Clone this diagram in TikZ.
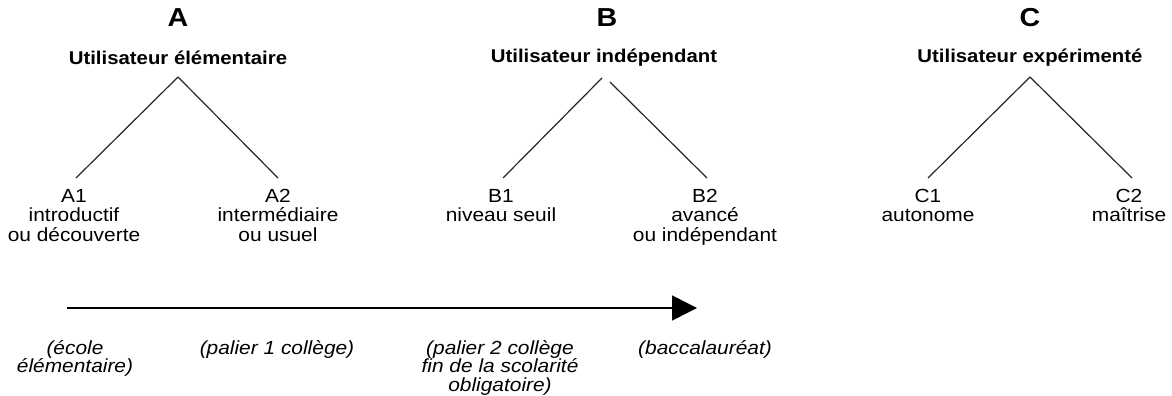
\documentclass[tikz,border=0pt]{standalone}
\usepackage{fontspec}
\setmainfont{Liberation Sans}[FakeStretch=1.1]
\usetikzlibrary{arrows.meta}
\begin{document}
\begin{tikzpicture}[x=1pt,y=-1pt,
  head/.style={font=\fontsize{26}{28}\selectfont\bfseries, inner sep=0pt},
  sub/.style={font=\fontsize{18.5}{19.5}\selectfont\bfseries, inner sep=0pt},
  lvl/.style={font=\fontsize{19}{19.5}\selectfont, align=center, anchor=north, inner sep=0pt},
  stage/.style={font=\fontsize{19}{18.5}\selectfont\itshape, align=center, anchor=north, inner sep=0pt},
  branch/.style={line width=1.2pt, black!85},
]
\useasboundingbox (0,0) rectangle (1172,396);
% headings
\node[head] (A) at (178,18) {A};
\node[sub] (As) at (178,58) {Utilisateur élémentaire};
\node[head] (B) at (607,18) {B};
\node[sub] (Bs) at (604,58) {Utilisateur indépendant};
\node[head] (C) at (1030,18) {C};
\node[sub] (Cs) at (1030,58) {Utilisateur expérimenté};
% apexes
\coordinate (Aap) at (178,77);
\coordinate (BapL) at (602,78);
\coordinate (BapR) at (610,82);
\coordinate (Cap) at (1030,77);
% levels
\node[lvl] (A1) at (74,189) {A1\\introductif\\ou découverte};
\node[lvl] (A2) at (278,189) {A2\\intermédiaire\\ou usuel};
\node[lvl] (B1) at (501,189) {B1\\niveau seuil};
\node[lvl] (B2) at (705,189) {B2\\avancé\\ou indépendant};
\node[lvl] (C1) at (928,189) {C1\\autonome};
\node[lvl] (C2) at (1129,189) {C2\\maîtrise};
% branches
\draw[branch] (Aap) -- ([yshift=11pt,xshift=2pt]A1.north);
\draw[branch] (Aap) -- ([yshift=11pt]A2.north);
\draw[branch] (BapL) -- ([yshift=11pt,xshift=2pt]B1.north);
\draw[branch] (BapR) -- ([yshift=11pt,xshift=2pt]B2.north);
\draw[branch] (Cap) -- ([yshift=11pt]C1.north);
\draw[branch] (Cap) -- ([yshift=11pt,xshift=3pt]C2.north);
% timeline
\coordinate (t0) at (67,308);
\coordinate (t1) at (697,308);
\draw[line width=1.5pt, -{Triangle[length=25pt,width=25pt]}] (t0) -- (t1);
\node[stage] (s1) at (75,340) {(école\\élémentaire)};
\node[stage] (s2) at (277,340) {(palier 1 collège)};
\node[stage] (s3) at (500,340) {(palier 2 collège\\fin de la scolarité\\obligatoire)};
\node[stage] (s4) at (705,340) {(baccalauréat)};
\end{tikzpicture}
\end{document}
